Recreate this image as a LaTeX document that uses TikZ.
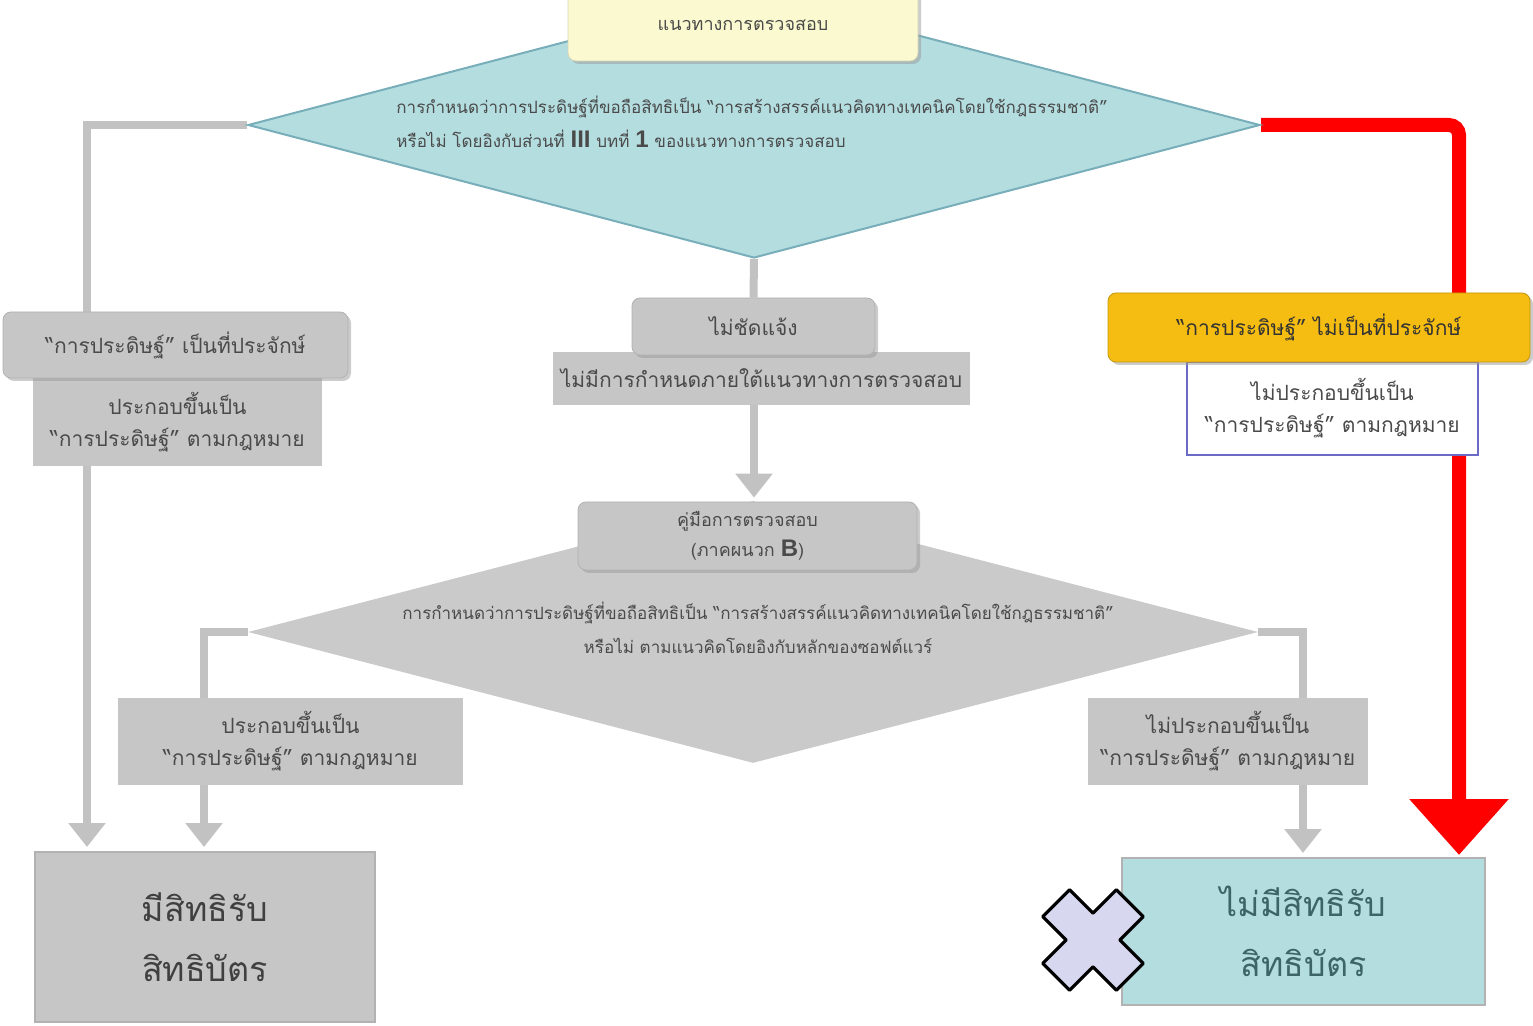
\documentclass[tikz,border=0pt]{standalone}
\usepackage{fontspec}
\setmainfont[Script=Thai]{Loma}
\newfontfamily\latinsf{Liberation Sans}
\usetikzlibrary{shapes.geometric,arrows.meta,shadows}
\pgfdeclarelayer{bg}\pgfsetlayers{bg,main}
\definecolor{paleyel}{HTML}{FBF9CF}
\definecolor{palecyan}{HTML}{B4DDE0}
\definecolor{cyanedge}{HTML}{78AEBA}
\definecolor{boxgray}{HTML}{C6C6C6}
\definecolor{diagray}{HTML}{CACACA}
\definecolor{linegray}{HTML}{C2C2C2}
\definecolor{gold}{HTML}{F5BC12}
\definecolor{txtgray}{HTML}{4A4A4A}
\definecolor{tealtxt}{HTML}{3D6567}
\definecolor{crossfill}{HTML}{D7D7F0}
\begin{document}
\begin{tikzpicture}[x=0.5pt,y=-0.5pt,
 lbl/.style={font=\fontsize{10.5}{16}\selectfont,text=txtgray,align=center,inner sep=0pt},
 rbox/.style={lbl,rounded corners=4pt,draw=gray!60,fill=boxgray,drop shadow={shadow xshift=1.5pt,shadow yshift=-1.5pt,fill=gray!80}},
 sbox/.style={lbl,fill=boxgray},
 bigbox/.style={lbl,font=\fontsize{17}{30}\selectfont,draw=gray!60,line width=1pt},
 gline/.style={draw=linegray,line width=4pt},
 garrow/.style={gline,shorten >=2pt,-{Triangle[width=18pt,length=12pt]}}]
\useasboundingbox (0,0) rectangle (1533,1026);
\node[diamond,draw=cyanedge,fill=palecyan,line width=1pt,minimum width=506pt,minimum height=133pt,inner sep=0pt] (judge) at (754,125) {};
\node[lbl,align=left,font=\fontsize{8.5}{17}\selectfont] (judgetxt) at (752,122) {การกำหนดว่าการประดิษฐ์ที่ขอถือสิทธิเป็น “การสร้างสรรค์แนวคิดทางเทคนิคโดยใช้กฎธรรมชาติ”\\หรือไม่ โดยอิงกับส่วนที่ {\latinsf\bfseries\large III} บทที่ {\latinsf\bfseries\large 1} ของแนวทางการตรวจสอบ};
\node[rbox,fill=paleyel,draw=paleyel!70!gray,minimum width=175pt,minimum height=36pt,font=\fontsize{9}{12}\selectfont] (guide) at (743,25) {แนวทางการตรวจสอบ};
\node[diamond,fill=diagray,inner sep=0pt,minimum width=505pt,minimum height=131pt] (check) at (753,632) {};
\node[lbl,font=\fontsize{8.5}{17}\selectfont] (checktxt) at (758,628) {การกำหนดว่าการประดิษฐ์ที่ขอถือสิทธิเป็น “การสร้างสรรค์แนวคิดทางเทคนิคโดยใช้กฎธรรมชาติ”\\หรือไม่ ตามแนวคิดโดยอิงกับหลักของซอฟต์แวร์};

\node[sbox,minimum width=144.5pt,minimum height=44pt] (yessub) at (177.5,422) {ประกอบขึ้นเป็น\\“การประดิษฐ์” ตามกฎหมาย};
\node[rbox,minimum width=172.5pt,minimum height=33pt] (yes) at (175.5,345) {“การประดิษฐ์” เป็นที่ประจักษ์};
\node[sbox,minimum width=208.5pt,minimum height=26.5pt] (nodef) at (761.5,378.5) {ไม่มีการกำหนดภายใต้แนวทางการตรวจสอบ};
\node[rbox,minimum width=121.5pt,minimum height=28.5pt] (unclear) at (753.5,326.5) {ไม่ชัดแจ้ง};
\node[lbl,draw=blue!45!gray!80,fill=white,line width=0.8pt,minimum width=145.5pt,minimum height=46.5pt] (nosub) at (1332.5,408.5) {ไม่ประกอบขึ้นเป็น\\“การประดิษฐ์” ตามกฎหมาย};
\node[rbox,fill=gold,draw=gold!80!black,minimum width=211pt,minimum height=34.5pt,text=black!80] (no) at (1319,327.5) {“การประดิษฐ์” ไม่เป็นที่ประจักษ์};
\node[rbox,minimum width=169.5pt,minimum height=34pt,font=\fontsize{9}{15}\selectfont] (manual) at (747.5,536) {คู่มือการตรวจสอบ\\(ภาคผนวก {\latinsf\bfseries\large B})};
\node[sbox,minimum width=172.5pt,minimum height=43.5pt] (chkyes) at (290.5,741.5) {ประกอบขึ้นเป็น\\“การประดิษฐ์” ตามกฎหมาย};
\node[sbox,minimum width=140pt,minimum height=43.5pt] (chkno) at (1228,741.5) {ไม่ประกอบขึ้นเป็น\\“การประดิษฐ์” ตามกฎหมาย};
\node[bigbox,fill=boxgray,minimum width=170pt,minimum height=85pt,text=black!75] (grant) at (205,937) {มีสิทธิรับ\\สิทธิบัตร};
\node[bigbox,fill=palecyan,minimum width=181.5pt,minimum height=73.5pt,text=tealtxt] (refuse) at (1303.5,931.5) {ไม่มีสิทธิรับ\\สิทธิบัตร};
\draw[line width=1.6pt,line join=round,fill=crossfill,shift={(1093,940)},rotate=45] (-19,-52) -- (19,-52) -- (19,-19) -- (52,-19) -- (52,19) -- (19,19) -- (19,52) -- (-19,52) -- (-19,19) -- (-52,19) -- (-52,-19) -- (-19,-19) -- cycle;

\begin{pgfonlayer}{bg}
\draw[garrow] (judge.west) -| ([xshift=26.5pt]grant.north west);
\draw[gline] (judge.south) -- (unclear.north);
\draw[garrow] (nodef.south -| judge.south) -- (manual.north -| judge.south);
\draw[garrow] (check.west) -| ([xshift=85pt]grant.north west);
\draw[garrow] (check.east) -| ([xshift=91pt]refuse.north west);
\draw[red,line width=7pt,rounded corners=5pt,shorten >=1pt,-{Triangle[width=48pt,length=28pt]}] (judge.east) -| ([xshift=-13.5pt]refuse.north east);
\end{pgfonlayer}
\end{tikzpicture}
\end{document}
